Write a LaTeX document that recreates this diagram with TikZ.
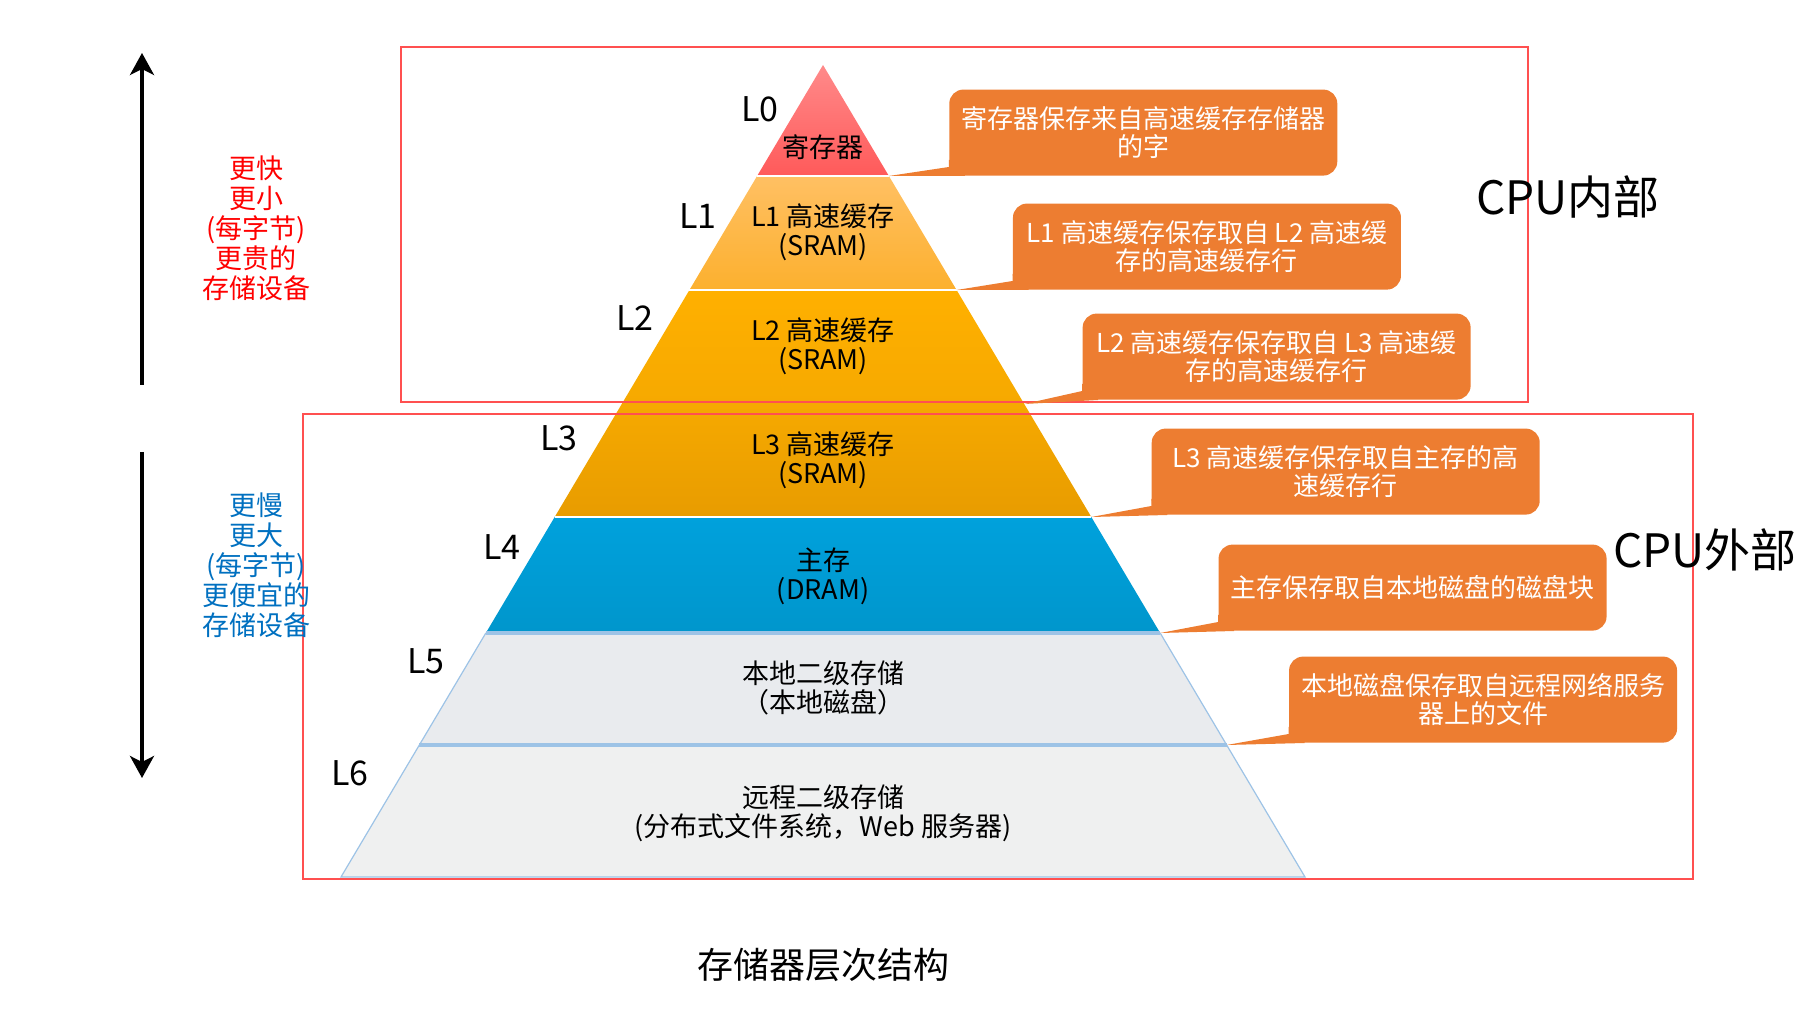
\documentclass[tikz,border=0pt]{standalone}
\usepackage{fontspec}
\setmainfont{Noto Sans CJK SC}
\usepackage{xcolor}
\usepackage{tikz}
\usetikzlibrary{arrows.meta,positioning,calc}

\definecolor{regtop}{HTML}{FF8A8A}
\definecolor{regbot}{HTML}{FF5A5A}
\definecolor{lonetop}{HTML}{FFC063}
\definecolor{lonebot}{HTML}{FCB02E}
\definecolor{ltwotop}{HTML}{FFB000}
\definecolor{ltwobot}{HTML}{F6A900}
\definecolor{lthreebot}{HTML}{E89C00}
\definecolor{dramtop}{HTML}{00A1DC}
\definecolor{drambot}{HTML}{0096CC}
\definecolor{localgray}{HTML}{E9EBEE}
\definecolor{remotegray}{HTML}{EFF0F0}
\definecolor{diskblue}{HTML}{9DC3E6}
\definecolor{calloutorange}{HTML}{ED7D31}
\definecolor{cpured}{HTML}{FF5050}
\definecolor{fastred}{HTML}{FF0000}
\definecolor{slowblue}{HTML}{0070C0}

\begin{document}
\begin{tikzpicture}[
    x=0.5pt, y=0.5pt,
    layertext/.style={font=\fontsize{13.5}{14.5}\selectfont, align=center},
    levellabel/.style={font=\fontsize{17}{17}\selectfont},
    callout/.style={fill=calloutorange, rounded corners=7pt, text=white, minimum width=194pt, minimum height=43pt, inner sep=0pt, align=center, font=\fontsize{13}{14}\selectfont},
    tail/.style={fill=calloutorange},
    sidetext/.style={font=\fontsize{13.5}{15}\selectfont, align=center},
    cpubox/.style={draw=cpured, line width=1.3pt},
    bigarrow/.style={line width=1.8pt, -{Stealth[length=11pt,width=12pt,inset=3pt]}}
]
\useasboundingbox (0,0) rectangle (1818,1022);

% Pyramid corners
\coordinate (apex) at (823,957);
\foreach \y [count=\i from 0] in {846,732,618,505,389,277,145} {
  \coordinate (l\i) at ({823-(957-\y)*0.5936},\y);
  \coordinate (r\i) at ({823+(957-\y)*0.5936},\y);
}

% Pyramid layers
\shade[top color=regtop, bottom color=regbot] (apex) -- (r0) -- (l0) -- cycle;
\shade[top color=lonetop, bottom color=lonebot] (l0) -- (r0) -- (r1) -- (l1) -- cycle;
\shade[top color=ltwotop, bottom color=ltwobot] (l1) -- (r1) -- (r2) -- (l2) -- cycle;
\shade[top color=ltwobot, bottom color=lthreebot] (l2) -- (r2) -- (r3) -- (l3) -- cycle;
\shade[top color=dramtop, bottom color=drambot] (l3) -- (r3) -- (r4) -- (l4) -- cycle;
\fill[localgray] (l4) -- (r4) -- (r5) -- (l5) -- cycle;
\fill[remotegray] (l5) -- (r5) -- (r6) -- (l6) -- cycle;

% Layer borders
\draw[white, line width=1pt] (l0) -- (r0);
\draw[white, line width=1pt] (l1) -- (r1);
\draw[white, line width=1pt] (l3) -- (r3);
\draw[diskblue, line width=0.6pt] (l4) -- (l6) -- (r6) -- (r4);
\draw[diskblue, line width=2pt] (l4) -- (r4);
\draw[diskblue, line width=2pt] (l5) -- (r5);

% Layer texts
\node[layertext] (reg) at (823,875) {寄存器};
\node[layertext] (lone) at (823,790) {L1 高速缓存\\(SRAM)};
\node[layertext] (ltwo) at (823,676) {L2 高速缓存\\(SRAM)};
\node[layertext] (lthree) at (823,562) {L3 高速缓存\\(SRAM)};
\node[layertext] (dram) at (823,446) {主存\\(DRAM)};
\node[layertext] (local) at (823,334) {本地二级存储\\（本地磁盘）};
\node[layertext] (remote) at (823,209) {远程二级存储\\(分布式文件系统，Web 服务器)};

% Level labels
\foreach \x/\y [count=\i from 0] in {760/913, 698/806, 635/704, 559/584, 502/475, 426/361, 350/249}
  \node[levellabel] (lab\i) at (\x,\y) {L\i};

% CPU boxes
\draw[cpubox] (401,620) rectangle (1528,975);
\draw[cpubox] (303,143) rectangle (1693,608);
\node[font=\fontsize{23}{23}\selectfont] (inside) at (1568,825) {CPU内部};
\node[font=\fontsize{23}{23}\selectfont] (outside) at (1705,472) {CPU外部};

% Callouts
\node[callout, above right=0pt and 30pt of r0] (c0) {寄存器保存来自高速缓存存储器\\的字};
\node[callout, above right=0pt and 28pt of r1] (c1) {L1 高速缓存保存取自 L2 高速缓\\存的高速缓存行};
\node[callout, above right=2pt and 29pt of r2] (c2) {L2 高速缓存保存取自 L3 高速缓\\存的高速缓存行};
\node[callout, above right=1pt and 30pt of r3] (c3) {L3 高速缓存保存取自主存的高\\速缓存行};
\node[callout, above right=1pt and 29pt of r4] (c4) {主存保存取自本地磁盘的磁盘块};
\node[callout, above right=1pt and 31pt of r5] (c5) {本地磁盘保存取自远程网络服务\\器上的文件};
\foreach \i in {0,...,5}
  \fill[tail] (r\i) -- ($(c\i.south west)+(0,9)$) -- ($(c\i.south west)+(0,16)$)
    -- ($(c\i.south west)+(16,16)$) -- ($(c\i.south west)+(16,0)$) -- cycle;

% Side arrows
\coordinate (fastlow) at (142,637);
\coordinate (fasthigh) at (142,969);
\coordinate (slowhigh) at (142,570);
\coordinate (slowlow) at (142,244);
\draw[bigarrow] (fastlow) -- (fasthigh);
\draw[bigarrow] (slowhigh) -- (slowlow);
\node[sidetext, text=fastred] (fast) at (256,794) {更快\\更小\\(每字节)\\更贵的\\存储设备};
\node[sidetext, text=slowblue] (slow) at (256,457) {更慢\\更大\\(每字节)\\更便宜的\\存储设备};

% Title
\node[font=\fontsize{18}{18}\selectfont] (title) at (823,57) {存储器层次结构};
\end{tikzpicture}
\end{document}
